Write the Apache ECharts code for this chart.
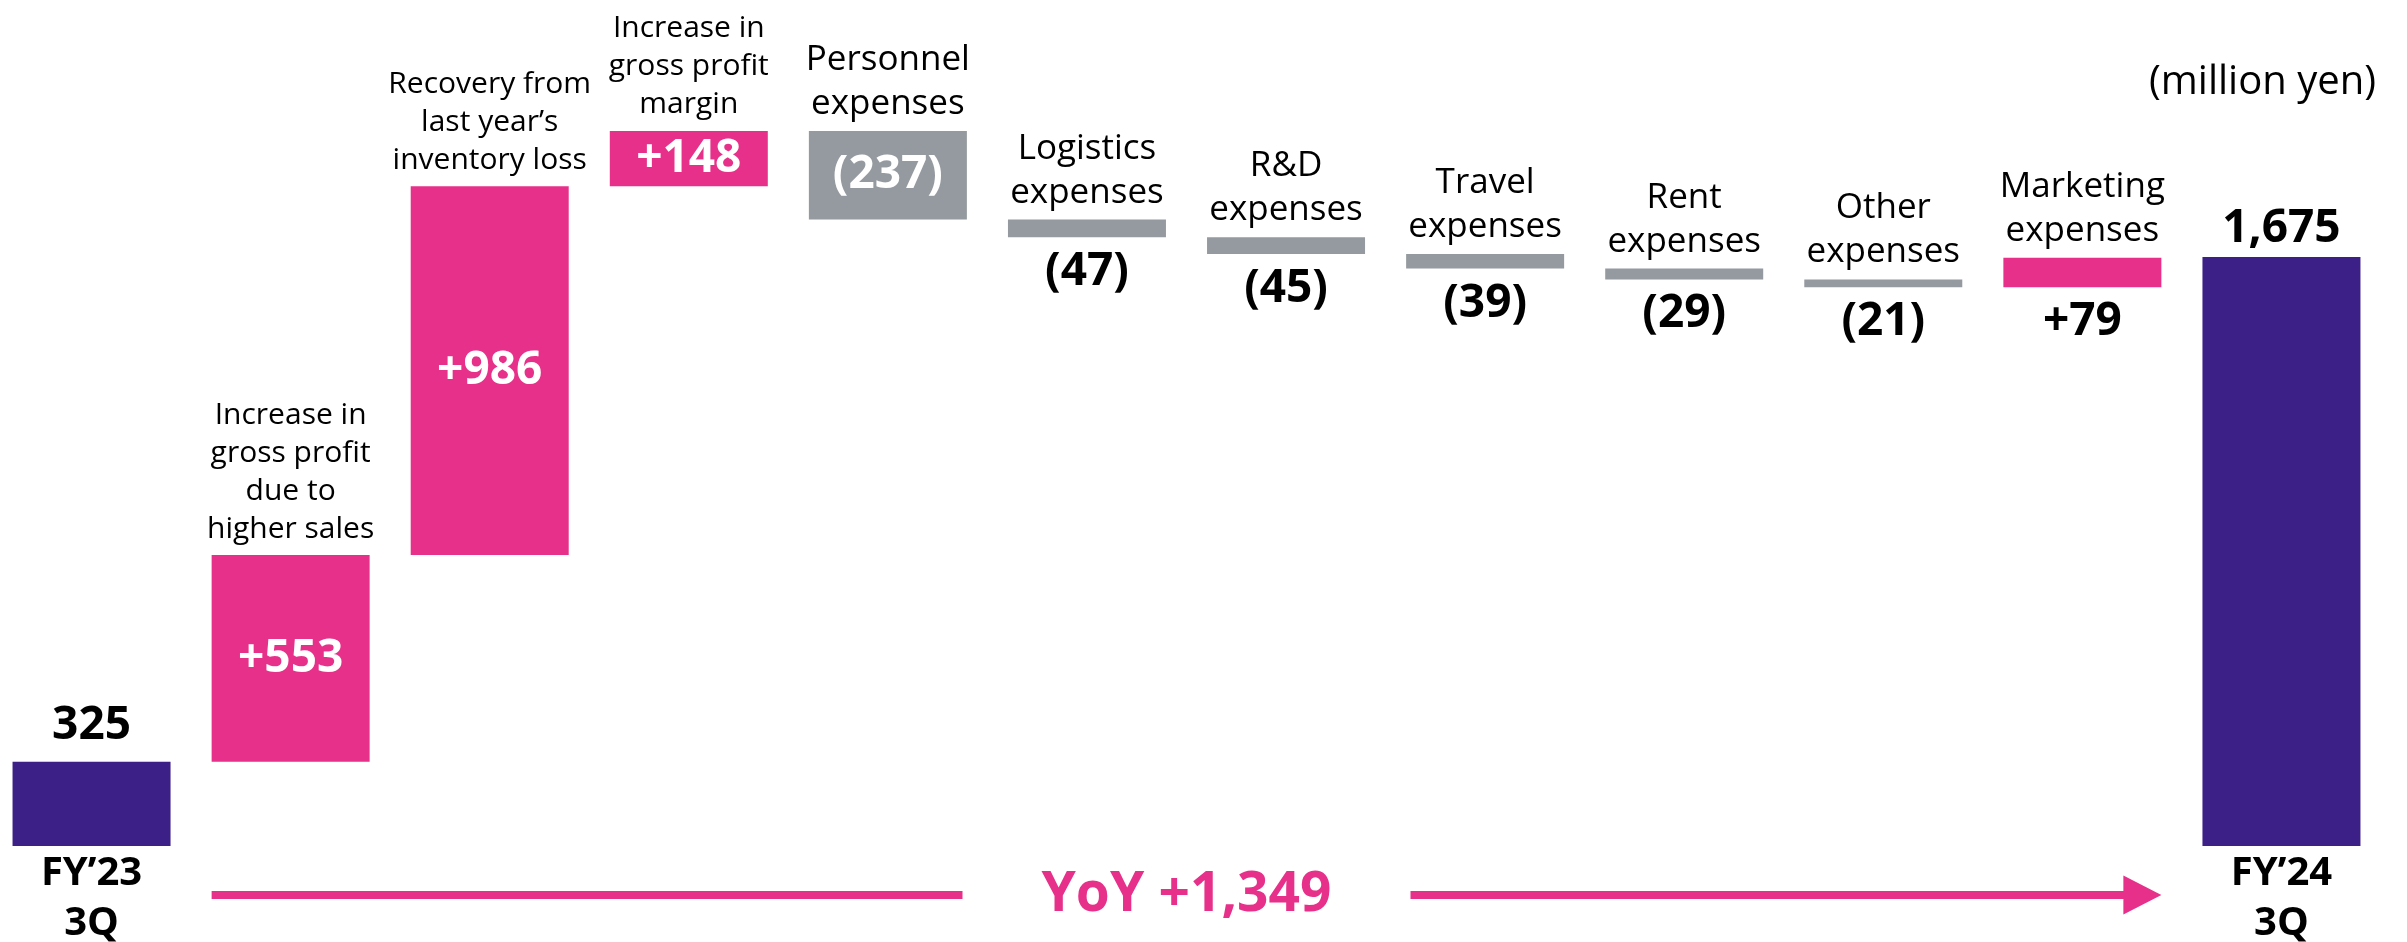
<!DOCTYPE html>
<html>
<head>
<meta charset="utf-8">
<script src="https://cdn.jsdelivr.net/npm/echarts@6/dist/echarts.min.js"></script>
<style>
  html, body { margin: 0; padding: 0; background: #fff; }
  #chart { width: 2407px; height: 942px; }
</style>
</head>
<body>
<div id="chart"></div>
<script>
// data
const categories = [
  'FY’23\n3Q',
  'Increase in\ngross profit\ndue to\nhigher sales',
  'Recovery from\nlast year’s\ninventory loss',
  'Increase in\ngross profit\nmargin',
  'Personnel\nexpenses',
  'Logistics\nexpenses',
  'R&D\nexpenses',
  'Travel\nexpenses',
  'Rent\nexpenses',
  'Other\nexpenses',
  'Marketing\nexpenses',
  'FY’24\n3Q'
];
const kinds = ['total', 'profit', 'profit', 'profit', 'expense', 'expense', 'expense',
  'expense', 'expense', 'expense', 'expense', 'total'];
const startTotal = 325;
const endTotal = 1675;
const changes = [553, 986, 148, -237, -47, -45, -39, -29, -21, 79];
const yoyText = 'YoY +1,349';
const unitText = '(million yen)';

// styles
const PINK = '#E6308A';
const PURPLE = '#3C1F87';
const GRAY = '#949A9F';
const FONT = '"Open Sans", "Noto Sans", sans-serif';
const totalGap = [11, 3];

// waterfall pieces: invisible base + visible block
const baseVals = [0];
const blockVals = [startTotal];
const valueText = [startTotal.toLocaleString('en-US')];
const colors = [PURPLE];
let level = startTotal;
changes.forEach(function (d) {
  const next = level + d;
  baseVals.push(Math.min(level, next));
  blockVals.push(Math.abs(d));
  valueText.push(d > 0 ? '+' + d : '(' + (-d) + ')');
  colors.push(d > 0 ? PINK : GRAY);
  level = next;
});
baseVals.push(0);
blockVals.push(endTotal);
valueText.push(endTotal.toLocaleString('en-US'));
colors.push(PURPLE);

const last = categories.length - 1;
const bigBlock = function (i) { return kinds[i] !== 'total' && blockVals[i] >= 100; };
const smallBlock = function (i) { return kinds[i] !== 'total' && blockVals[i] < 100; };

const chart = echarts.init(document.getElementById('chart'));

const baseData = baseVals.map(function (v, i) {
  return {
    value: v,
    label: {
      show: smallBlock(i),
      position: 'insideTop',
      distance: 10,
      formatter: valueText[i],
      color: '#000',
      fontFamily: FONT,
      fontWeight: 'bold',
      fontSize: 46,
      lineHeight: 50
    }
  };
});

const blockData = blockVals.map(function (v, i) {
  return {
    value: v,
    itemStyle: { color: colors[i] },
    label: {
      show: bigBlock(i),
      position: 'inside',
      formatter: valueText[i],
      color: '#fff',
      fontFamily: FONT,
      fontWeight: 'bold',
      fontSize: 46,
      lineHeight: 50
    }
  };
});

const capData = categories.map(function (name, i) {
  let label;
  if (kinds[i] === 'total') {
    label = { formatter: valueText[i], fontWeight: 'bold', fontSize: 46, lineHeight: 50,
      distance: totalGap[i === 0 ? 0 : 1] };
  } else if (kinds[i] === 'profit') {
    label = { formatter: name, fontWeight: 'normal', fontSize: 30, lineHeight: 38, distance: 7 };
  } else {
    label = { formatter: name, fontWeight: 'normal', fontSize: 35, lineHeight: 44, distance: 5 };
  }
  label.show = true;
  label.position = 'top';
  label.color = '#000';
  label.fontFamily = FONT;
  return { value: 0, label: label };
});

const option = {
  animation: false,
  grid: {
    left: -8,
    right: 26,
    top: 98,
    bottom: 96,
    containLabel: false,
    outerBoundsMode: 'none'
  },
  xAxis: {
    type: 'category',
    data: categories,
    axisLine: { show: false },
    axisTick: { show: false },
    splitLine: { show: false },
    axisLabel: {
      interval: 0,
      margin: 3,
      color: '#000',
      fontFamily: FONT,
      fontWeight: 'bold',
      fontSize: 40,
      lineHeight: 50,
      formatter: function (v, i) {
        return i === 0 || i === last ? v : '';
      }
    }
  },
  yAxis: {
    type: 'value',
    show: false,
    min: 100,
    max: 2100,
    splitLine: { show: false }
  },
  series: [
    {
      type: 'bar',
      stack: 'wf',
      barWidth: 158,
      silent: true,
      itemStyle: { color: 'transparent' },
      data: baseData
    },
    {
      type: 'bar',
      stack: 'wf',
      barWidth: 158,
      silent: true,
      data: blockData
    },
    {
      type: 'bar',
      stack: 'wf',
      barWidth: 158,
      silent: true,
      itemStyle: { color: 'transparent' },
      data: capData
    }
  ]
};

chart.setOption(option);

// YoY arrow under the bars, spanning the change blocks
const halfBar = 79;
const axisY = chart.convertToPixel({ yAxisIndex: 0 }, 100);
const arrowY = axisY + 49;
const xStart = chart.convertToPixel({ xAxisIndex: 0 }, 1) - halfBar;
const xEnd = chart.convertToPixel({ xAxisIndex: 0 }, last - 1) + halfBar;
const xMid = (xStart + xEnd) / 2;
const gapHalf = 224;
const headLen = 38;
const headHalf = 19.5;

chart.setOption({
  graphic: [
    {
      type: 'rect',
      shape: { x: xStart, y: arrowY - 4, width: xMid - gapHalf - xStart, height: 8 },
      style: { fill: PINK },
      silent: true
    },
    {
      type: 'rect',
      shape: { x: xMid + gapHalf, y: arrowY - 4, width: xEnd - headLen - (xMid + gapHalf) + 1, height: 8 },
      style: { fill: PINK },
      silent: true
    },
    {
      type: 'polygon',
      shape: {
        points: [
          [xEnd - headLen, arrowY - headHalf],
          [xEnd, arrowY],
          [xEnd - headLen, arrowY + headHalf]
        ]
      },
      style: { fill: PINK },
      silent: true
    },
    {
      type: 'text',
      x: xMid,
      y: arrowY,
      style: {
        text: yoyText,
        fill: PINK,
        font: 'bold 55px ' + FONT,
        align: 'center',
        verticalAlign: 'middle'
      },
      silent: true
    },
    {
      type: 'text',
      right: 31,
      top: 63,
      style: {
        text: unitText,
        fill: '#000',
        font: '40px ' + FONT
      },
      silent: true
    }
  ]
});

window.addEventListener('resize', function () {
  chart.resize();
});
</script>
</body>
</html>
